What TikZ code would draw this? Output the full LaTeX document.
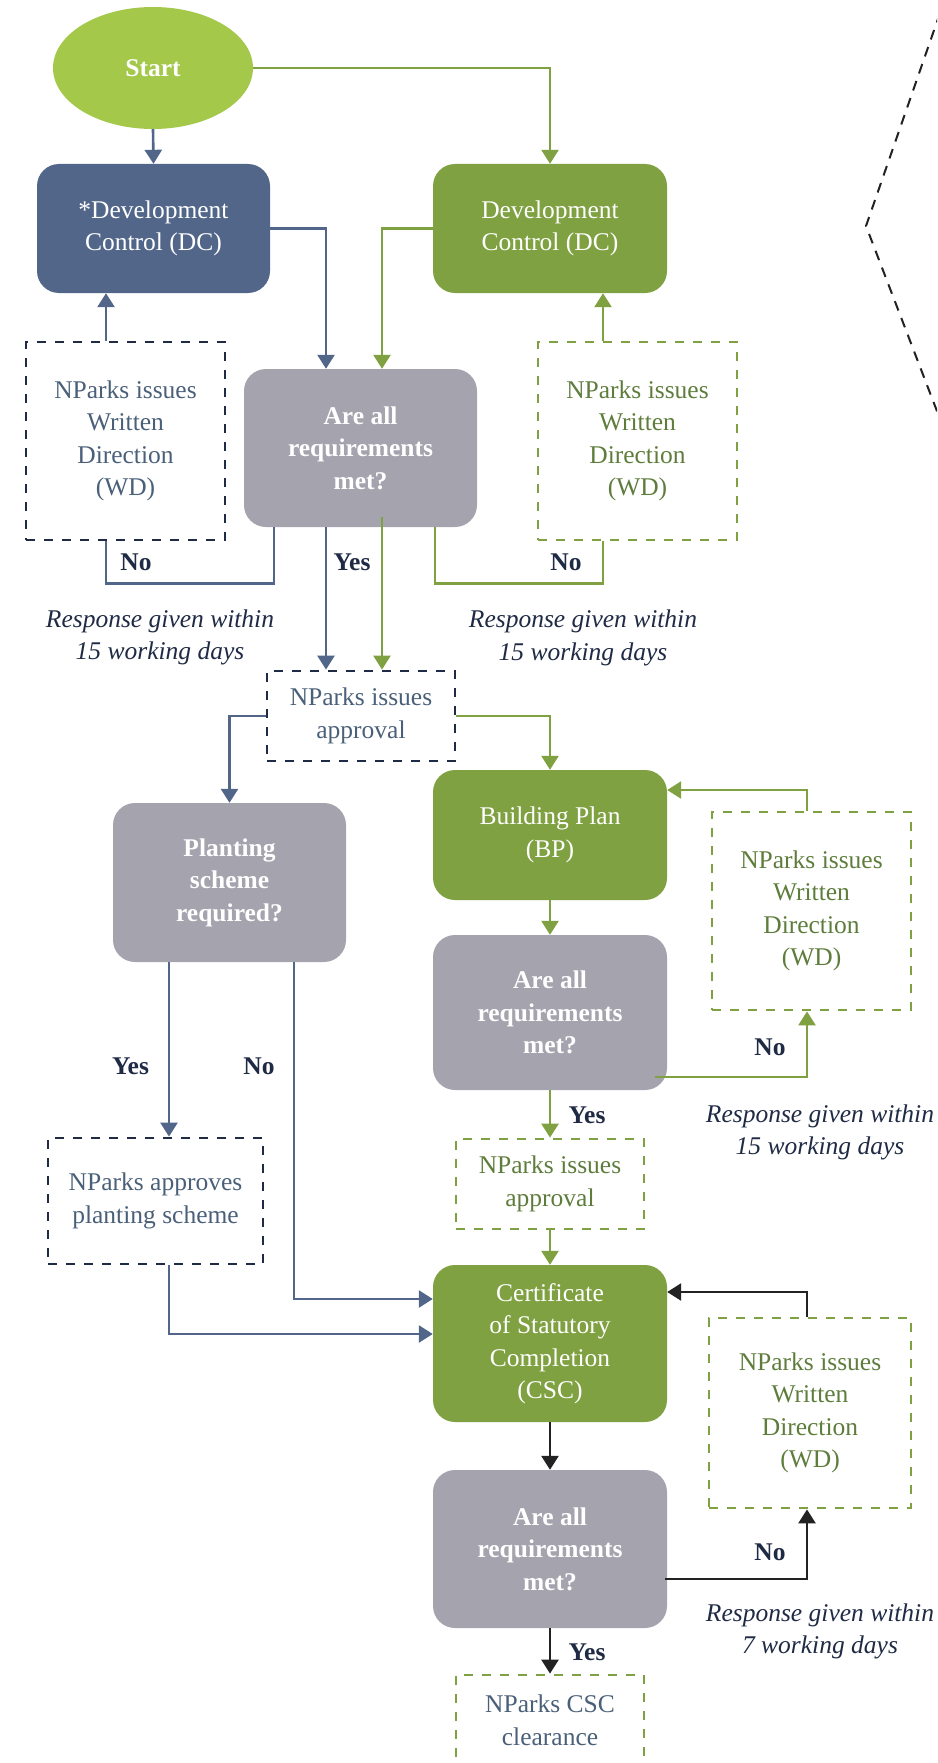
\documentclass[tikz,border=0pt]{standalone}
\usepackage{fontspec}
\setmainfont{Liberation Serif}
\usetikzlibrary{arrows.meta,shapes.geometric}
\definecolor{cStart}{HTML}{A3C84A}
\definecolor{cGreen}{HTML}{7FA141}
\definecolor{cBlue}{HTML}{52668A}
\definecolor{cGray}{HTML}{A5A3AE}
\definecolor{cNavy}{HTML}{1F2A44}
\definecolor{cSlate}{HTML}{4A6079}
\definecolor{cOlive}{HTML}{5E7D3C}
\definecolor{cDark}{HTML}{222222}
\begin{document}
\begin{tikzpicture}[x=1pt,y=-1pt,
  every node/.style={font=\fontsize{25.5}{32.5}\selectfont, inner sep=0pt, align=center},
  filledbox/.style={rectangle, rounded corners=22pt, text=white},
  bluebox/.style={filledbox, fill=cBlue},
  greenbox/.style={filledbox, fill=cGreen},
  graybox/.style={filledbox, fill=cGray, font=\fontsize{25.5}{32.5}\selectfont\bfseries},
  navydash/.style={rectangle, draw=cNavy, line width=2.8pt, dash pattern=on 9pt off 9pt, text=cSlate},
  greendash/.style={rectangle, draw=cGreen, line width=2.8pt, dash pattern=on 9pt off 9pt, text=cOlive},
  conn/.style={line width=2.6pt},
  bl/.style={conn, draw=cBlue},
  gr/.style={conn, draw=cGreen},
  dk/.style={conn, draw=cDark},
  arr/.style={-{Triangle[width=17pt,length=14pt]}},
  lab/.style={font=\fontsize{25.5}{32.5}\selectfont\bfseries, text=cNavy},
  note/.style={font=\fontsize{25.5}{32.5}\selectfont\itshape, text=cNavy},
]
\path[use as bounding box] (0,0) rectangle (937,1763);
\clip (0,0) rectangle (937,1763);

% nodes
\node[ellipse, fill=cStart, minimum width=200pt, minimum height=122pt, text=white, font=\fontsize{25.5}{32.5}\selectfont\bfseries] (start) at (153,68) {Start};
\node[bluebox, minimum width=233pt, minimum height=129pt] (dcb) at (153.5,228.5) {*Development\\Control (DC)};
\node[greenbox, minimum width=234pt, minimum height=129pt] (dcg) at (550,228.5) {Development\\Control (DC)};
\node[navydash, minimum width=199pt, minimum height=198pt] (wd1) at (125.5,441) {NParks issues\\Written\\Direction\\(WD)};
\node[graybox, minimum width=233pt, minimum height=158pt] (q1) at (360.5,448) {Are all\\requirements\\met?};
\node[greendash, minimum width=199pt, minimum height=198pt] (wd2) at (637.5,441) {NParks issues\\Written\\Direction\\(WD)};
\node[navydash, minimum width=188pt, minimum height=90pt] (appr1) at (361,716) {NParks issues\\approval};
\node[greenbox, minimum width=234pt, minimum height=130pt] (bp) at (550,835) {Building Plan\\(BP)};
\node[graybox, minimum width=233pt, minimum height=159pt] (plant) at (229.5,882.5) {Planting\\scheme\\required?};
\node[graybox, minimum width=234pt, minimum height=155pt] (q2) at (550,1012.5) {Are all\\requirements\\met?};
\node[greendash, minimum width=199pt, minimum height=198pt] (wdbp) at (811.5,911) {NParks issues\\Written\\Direction\\(WD)};
\node[greendash, minimum width=188pt, minimum height=90pt] (appr2) at (550,1184) {NParks issues\\approval};
\node[navydash, minimum width=215pt, minimum height=126pt] (plantok) at (155.5,1201) {NParks approves\\planting scheme};
\node[greenbox, minimum width=234pt, minimum height=157pt] (csc) at (550,1343.5) {Certificate\\of Statutory\\Completion\\(CSC)};
\node[greendash, minimum width=202pt, minimum height=190pt] (wdcsc) at (810,1413) {NParks issues\\Written\\Direction\\(WD)};
\node[graybox, minimum width=234pt, minimum height=158pt] (q3) at (550,1549) {Are all\\requirements\\met?};
\node[greendash, text=cSlate, minimum width=188pt, minimum height=91pt] (final) at (550,1720.5) {NParks CSC\\clearance};

% labels
\node[lab] (l1) at (136,562) {No};
\node[lab] (l2) at (352,562) {Yes};
\node[lab] (l3) at (566,562) {No};
\node[lab] (l4) at (130.5,1066) {Yes};
\node[lab] (l5) at (259,1066) {No};
\node[lab] (l6) at (770,1047) {No};
\node[lab] (l7) at (587,1115) {Yes};
\node[lab] (l8) at (770,1552) {No};
\node[lab] (l9) at (587,1652) {Yes};
\node[note] (n1) at (160,637.5) {Response given within\\15 working days};
\node[note] (n2) at (583,638) {Response given within\\15 working days};
\node[note] (n3) at (820,1132.5) {Response given within\\15 working days};
\node[note] (n4) at (820,1631.5) {Response given within\\7 working days};

% connectors
\draw[bl,arr] (start.south) -- (dcb.north);
\draw[gr,arr] (start.east) -| (dcg.north);
\draw[bl,arr] (dcb.east) -| ([xshift=-34.5pt]q1.north);
\draw[gr,arr] (dcg.west) -| ([xshift=21.5pt]q1.north);
\draw[bl,arr] ([xshift=-19.5pt]wd1.north) -- ([xshift=-19.5pt]wd1.north |- dcb.south);
\draw[bl] ([xshift=-86.5pt]q1.south) -- ++(0,56) -| ([xshift=-19.5pt]wd1.south);
\draw[gr,arr] ([xshift=-34.5pt]wd2.north) -- ([xshift=-34.5pt]wd2.north |- dcg.south);
\draw[gr] ([xshift=74.5pt]q1.south) -- ++(0,56) -| ([xshift=-34.5pt]wd2.south);
\draw[bl,arr] ([xshift=-34.5pt]q1.south) -- ([xshift=-34.5pt]q1.south |- appr1.north);
\draw[gr,arr] ([xshift=21.5pt,yshift=10pt]q1.south) -- ([xshift=21.5pt]q1.south |- appr1.north);
\draw[bl,arr] (appr1.west) -| (plant.north);
\draw[gr,arr] (appr1.east) -| (bp.north);
\draw[gr,arr] (bp.south) -- (q2.north);
\draw[gr,arr] ([xshift=-4.5pt]wdbp.north) |- ([yshift=45pt]bp.east);
\draw[gr,arr] ([xshift=-12pt,yshift=-64.5pt]q2.east) -| ([xshift=-4.5pt]wdbp.south);
\draw[gr,arr] (q2.south) -- (appr2.north);
\draw[bl,arr] ([xshift=-60.5pt]plant.south) -- ([xshift=-60.5pt]plant.south |- plantok.north);
\draw[bl,arr] ([xshift=64.5pt]plant.south) |- ([yshift=44.5pt]csc.west);
\draw[bl,arr] ([xshift=13.5pt]plantok.south) |- ([yshift=9.5pt]csc.west);
\draw[gr,arr] (appr2.south) -- (csc.north);
\draw[dk,arr] ([xshift=-3pt]wdcsc.north) |- ([yshift=51.5pt]csc.east);
\draw[dk,arr] (csc.south) -- (q3.north);
\draw[dk,arr] ([xshift=-2pt,yshift=-30pt]q3.east) -| ([xshift=-3pt]wdcsc.south);
\draw[dk,arr] (q3.south) -- (final.north);

% partial dashed outline at the right edge
\draw[cDark, line width=2pt, dash pattern=on 10pt off 8pt] (940,13) -- (866,226) -- (940,419);
\end{tikzpicture}
\end{document}
